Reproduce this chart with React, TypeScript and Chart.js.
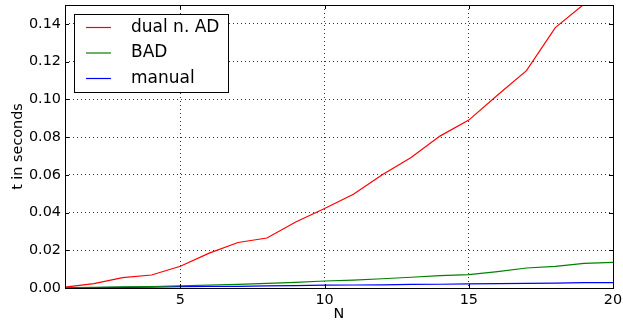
import React, { useEffect, useRef } from "react";
import { Chart, registerables } from "chart.js";

Chart.register(...registerables);

const nValues = [1, 2, 3, 4, 5, 6, 7, 8, 9, 10, 11, 12, 13, 14, 15, 16, 17, 18, 19, 20];
const dualAD = [0.0005, 0.0023, 0.0055, 0.0069, 0.0115, 0.0185, 0.0241, 0.0265, 0.035, 0.0421, 0.0497, 0.06, 0.0692, 0.0805, 0.089, 0.1023, 0.1152, 0.138, 0.1505, 0.163];
const bad = [0.0002, 0.0004, 0.0006, 0.0008, 0.0012, 0.0015, 0.0019, 0.0024, 0.003, 0.0037, 0.0042, 0.0049, 0.0057, 0.0066, 0.0071, 0.0087, 0.0106, 0.0115, 0.013, 0.0136];
const manual = [0.0001, 0.0002, 0.0003, 0.0005, 0.0007, 0.0008, 0.0009, 0.0011, 0.0013, 0.0015, 0.0016, 0.0017, 0.0019, 0.002, 0.0022, 0.0023, 0.0025, 0.0026, 0.0029, 0.0028];
const seriesLabels = ["dual n. AD", "BAD", "manual"];
const seriesColors = ["#ff0000", "#008000", "#0000ff"];
const xTicks = [5, 10, 15, 20];
const yTicks = [0, 0.02, 0.04, 0.06, 0.08, 0.1, 0.12, 0.14];

const FONT = "'DejaVu Sans', sans-serif";

const framePlugin = {
  id: "frame",
  afterDatasetsDraw(chart: any) {
    const { ctx, chartArea } = chart;
    const { left, right, top, bottom } = chartArea;
    const xs = chart.scales.x;
    const ys = chart.scales.y;
    ctx.save();
    ctx.setLineDash([]);
    ctx.strokeStyle = "#000";
    ctx.lineWidth = 1;
    ctx.beginPath();
    for (const v of xTicks) {
      const px = Math.round(xs.getPixelForValue(v)) + 0.5;
      ctx.moveTo(px, bottom);
      ctx.lineTo(px, bottom - 4);
      ctx.moveTo(px, top);
      ctx.lineTo(px, top + 4);
    }
    for (const v of yTicks) {
      const py = Math.round(ys.getPixelForValue(v)) + 0.5;
      ctx.moveTo(left, py);
      ctx.lineTo(left + 4, py);
      ctx.moveTo(right, py);
      ctx.lineTo(right - 4, py);
    }
    ctx.stroke();
    ctx.strokeRect(Math.round(left) + 0.5, Math.round(top) + 0.5, Math.round(right - left), Math.round(bottom - top));

    // legend
    const lx = 74.5, ly = 14.5, lw = 154, lh = 78;
    ctx.fillStyle = "#fff";
    ctx.fillRect(lx, ly, lw, lh);
    ctx.strokeStyle = "#000";
    ctx.strokeRect(lx, ly, lw, lh);
    ctx.font = `17px ${FONT}`;
    ctx.textBaseline = "middle";
    ctx.textAlign = "left";
    seriesLabels.forEach((label, i) => {
      const y = 27.5 + i * 25.5;
      ctx.strokeStyle = seriesColors[i];
      ctx.lineWidth = 1.2;
      ctx.beginPath();
      ctx.moveTo(86, y);
      ctx.lineTo(111, y);
      ctx.stroke();
      ctx.fillStyle = "#000";
      ctx.fillText(label, 131, y);
    });
    ctx.restore();
  },
};

export default function App() {
  const ref = useRef<HTMLCanvasElement | null>(null);
  useEffect(() => {
    if (!ref.current) return;
    const datasets = [dualAD, bad, manual].map((d, i) => ({
      label: seriesLabels[i],
      data: d.map((v, j) => ({ x: nValues[j], y: v })),
      borderColor: seriesColors[i],
      backgroundColor: seriesColors[i],
      borderWidth: 1.2,
      pointRadius: 0,
      tension: 0,
      fill: false,
    }));
    const grid = {
      color: "rgba(0,0,0,0.8)",
      lineWidth: 1,
      drawTicks: false,
    };
    const border = { display: false, dash: [1, 3] };
    const chart = new Chart(ref.current, {
      type: "line",
      data: { datasets },
      plugins: [framePlugin],
      options: {
        animation: false,
        responsive: false,
        devicePixelRatio: 1,
        layout: { padding: { left: 0, right: 10, top: 5, bottom: 0 } },
        plugins: { legend: { display: false }, tooltip: { enabled: false } },
        scales: {
          x: {
            type: "linear",
            min: 1,
            max: 20,
            border,
            grid,
            afterBuildTicks: (s: any) => {
              s.ticks = xTicks.map((v) => ({ value: v }));
            },
            afterFit: (s: any) => {
              s.height = 39;
              s.paddingLeft = 0;
              s.paddingRight = 0;
            },
            ticks: {
              color: "#000",
              padding: 4,
              maxRotation: 0,
              font: { family: FONT, size: 14.4 },
              callback: (v: any) => String(v),
            },
            title: {
              display: true,
              text: "N",
              color: "#000",
              font: { family: FONT, size: 14.4 },
              padding: { top: 0, bottom: 4 },
            },
          },
          y: {
            type: "linear",
            min: 0,
            max: 0.15,
            border,
            grid,
            afterBuildTicks: (s: any) => {
              s.ticks = yTicks.map((v) => ({ value: v }));
            },
            afterFit: (s: any) => {
              s.width = 65;
              s.paddingTop = 0;
              s.paddingBottom = 0;
            },
            ticks: {
              color: "#000",
              padding: 4,
              font: { family: FONT, size: 14.4 },
              callback: (v: any) => Number(v).toFixed(2),
            },
            title: {
              display: true,
              text: "t in seconds",
              color: "#000",
              font: { family: FONT, size: 14.4 },
              padding: { top: 10, bottom: 0 },
            },
          },
        },
      },
    } as any);
    return () => chart.destroy();
  }, []);
  return (
    <div style={{ position: "fixed", left: 0, top: 0, width: 623, height: 327, background: "#fff" }}>
      <canvas ref={ref} width={623} height={327} style={{ width: 623, height: 327 }} />
    </div>
  );
}
